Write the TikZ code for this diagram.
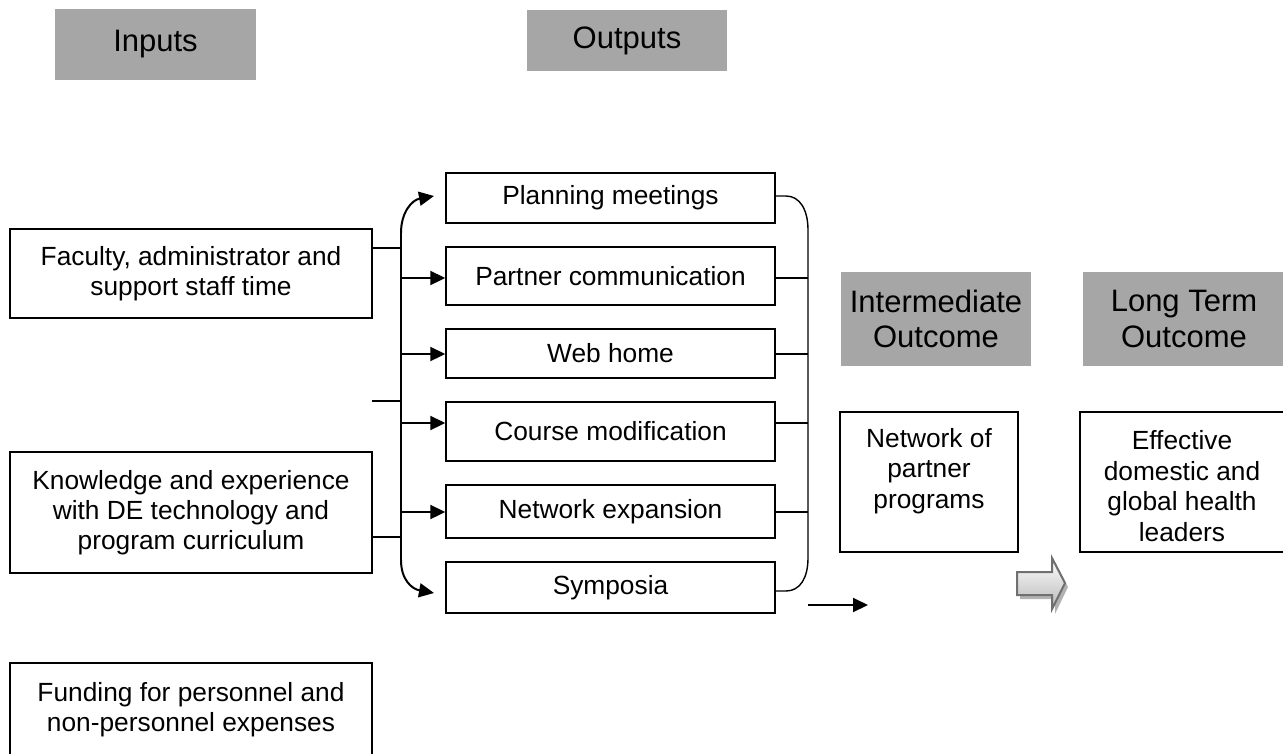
\documentclass[tikz,border=0pt]{standalone}
\usepackage{fontspec}
\setmainfont{Liberation Sans}
\usetikzlibrary{arrows.meta}
\definecolor{headgray}{RGB}{166,166,166}
\definecolor{arrowedge}{RGB}{112,112,112}
\definecolor{shadowgray}{RGB}{178,178,178}
\begin{document}
\begin{tikzpicture}[x=1pt,y=-1pt,
  head/.style={fill=headgray, inner sep=0pt, align=center, font=\fontsize{31}{35.6}\selectfont},
  inbox/.style={draw, line width=1.4pt, inner sep=0pt, align=center, font=\fontsize{26.3}{30.2}\selectfont},
  txt/.style={inner sep=0pt, align=center, font=\fontsize{26.3}{30.8}\selectfont},
  conn/.style={line width=2pt},
  thin/.style={line width=1.4pt},
  arr/.style={conn, -{Triangle[length=15pt,width=14pt]}},
]
\useasboundingbox (0,0) rectangle (1283,753);
% headings
\node[head, minimum width=201pt, minimum height=71pt] (inputs) at (155.5,44.5) {Inputs};
\node[head, minimum width=200pt, minimum height=61pt] (outputs) at (627,40.5) {Outputs};
\node[head, minimum width=190pt, minimum height=94pt] (inter) at (936,319) {Intermediate\\Outcome};
\node[head, minimum width=202pt, minimum height=94pt] (longt) at (1184,319) {Long Term\\Outcome};
% inputs
\node[inbox, minimum width=362pt, minimum height=89pt] (fac) at (191,273.5) {Faculty, administrator and\\support staff time};
\node[inbox, minimum width=362pt, minimum height=121pt] (know) at (191,512.5) {Knowledge and experience\\with DE technology and\\program curriculum};
\node[inbox, minimum width=362pt, minimum height=94pt] (fund) at (191,710) {Funding for personnel and\\non-personnel expenses};
% outputs
\node[inbox, minimum width=329pt, minimum height=50pt] (plan) at (610.5,198) {Planning meetings};
\node[inbox, minimum width=329pt, minimum height=58pt] (part) at (610.5,276) {Partner communication};
\node[inbox, minimum width=329pt, minimum height=49pt] (web) at (610.5,353.5) {Web home};
\node[inbox, minimum width=329pt, minimum height=59pt] (course) at (610.5,431.5) {Course modification};
\node[inbox, minimum width=329pt, minimum height=53pt] (netexp) at (610.5,511.5) {Network expansion};
\node[inbox, minimum width=329pt, minimum height=51pt] (symp) at (610.5,587.5) {Symposia};
% outcomes
\node[inbox, minimum width=178pt, minimum height=140pt] (netw) at (929,482) {};
\node[txt] (netwt) at (929,471) {Network of\\partner\\programs};
\node[inbox, minimum width=206pt, minimum height=140pt] (eff) at (1183,482) {};
\node[txt] (efft) at (1182,486) {Effective\\domestic and\\global health\\leaders};
% left bus coordinates
\coordinate (busTop) at (401,233);
\coordinate (busBot) at (401,560);
\coordinate (bFac) at (401,248);
\coordinate (bMid) at (401,401);
\coordinate (stubL) at (372,401);
\coordinate (bKnow) at (401,537);
\draw[conn] (busTop) -- (busBot);
\draw[conn] (fac.east |- bFac) -- (bFac);
\draw[conn] (stubL) -- (bMid);
\draw[conn] (know.east |- bKnow) -- (bKnow);
\coordinate (tipPlan) at (434,196);
\coordinate (tipSymp) at (434,593);
\draw[arr] (busTop) .. controls (401,212) and (412,200) .. (tipPlan);
\draw[arr] (busBot) .. controls (401,580) and (412,589) .. (tipSymp);
\coordinate (bPart) at (401,278);
\coordinate (bWeb) at (401,354);
\coordinate (bCourse) at (401,423);
\coordinate (bNet) at (401,512);
\draw[arr] (bPart) -- (part.west |- bPart);
\draw[arr] (bWeb) -- (web.west |- bWeb);
\draw[arr] (bCourse) -- (course.west |- bCourse);
\draw[arr] (bNet) -- (netexp.west |- bNet);
% right bracket
\coordinate (rTop) at (808,230);
\coordinate (rBot) at (808,558);
\coordinate (rPlan) at (786,196);
\coordinate (rSymp) at (786,591);
\draw[thin] (plan.east |- rPlan) -- (rPlan) .. controls (800,196) and (808,210) .. (rTop) -- (rBot) .. controls (808,578) and (800,591) .. (rSymp) -- (symp.east |- rSymp);
\coordinate (rPart) at (808,278);
\coordinate (rWeb) at (808,354);
\coordinate (rCourse) at (808,423);
\coordinate (rNet) at (808,512);
\draw[thin] (part.east |- rPart) -- (rPart);
\draw[thin] (web.east |- rWeb) -- (rWeb);
\draw[thin] (course.east |- rCourse) -- (rCourse);
\draw[thin] (netexp.east |- rNet) -- (rNet);
% small arrow
\coordinate (aStart) at (808,605);
\coordinate (aEnd) at (868,605);
\draw[arr] (aStart) -- (aEnd);
% block arrow
\fill[shadowgray] (1020,576) -- (1055,576) -- (1055,562) -- (1068,587) -- (1055,614) -- (1055,599) -- (1020,599) -- cycle;
\shade[top color=white, bottom color=black!28]
  (1017,572) -- (1052,572) -- (1052,558) -- (1065,583) -- (1052,609) -- (1052,595) -- (1017,595) -- cycle;
\draw[arrowedge, line width=2pt, line join=miter]
  (1017,572) -- (1052,572) -- (1052,558) -- (1065,583) -- (1052,609) -- (1052,595) -- (1017,595) -- cycle;
\end{tikzpicture}
\end{document}
